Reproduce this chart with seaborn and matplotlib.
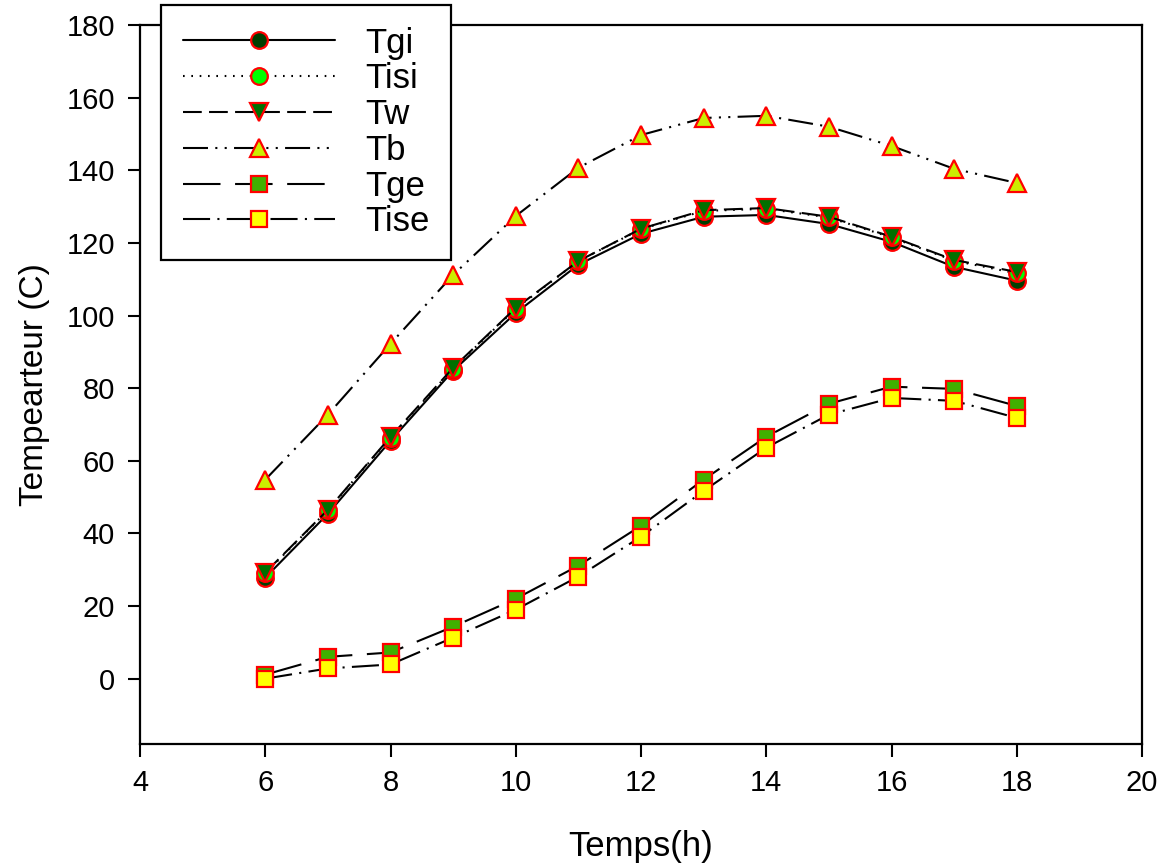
import pandas as pd
import numpy as np
import matplotlib
matplotlib.use('Agg')
import matplotlib.pyplot as plt
import seaborn as sns

# data
hours = [6, 7, 8, 9, 10, 11, 12, 13, 14, 15, 16, 17, 18]
tgi = [27.8, 45.4, 65.5, 84.8, 100.7, 114.0, 122.5, 127.2, 127.7, 125.2, 120.3, 113.4, 109.6]
tisi = [29.0, 46.4, 66.4, 85.4, 101.9, 115.0, 123.8, 128.8, 129.4, 127.0, 121.5, 115.1, 111.6]
tw = [29.2, 46.5, 66.6, 85.6, 102.1, 115.0, 123.9, 129.0, 129.6, 127.2, 121.7, 115.3, 112.0]
tb = [54.8, 72.7, 92.2, 111.2, 127.4, 140.7, 149.7, 154.4, 155.0, 152.0, 146.7, 140.4, 136.5]
tge = [1.1, 6.0, 7.2, 14.3, 22.0, 31.1, 42.1, 54.8, 66.6, 75.7, 80.4, 79.8, 75.1]
tise = [0.0, 2.8, 3.9, 11.3, 19.0, 28.1, 39.1, 51.7, 63.6, 72.7, 77.3, 76.5, 71.8]

names = ['Tgi', 'Tisi', 'Tw', 'Tb', 'Tge', 'Tise']
series = [tgi, tisi, tw, tb, tge, tise]

df = pd.DataFrame({'Temps': hours * len(names),
                   'T': np.concatenate(series),
                   'serie': np.repeat(names, len(hours))})

# look of each curve (SigmaPlot style)
styles = {
    'Tgi':  dict(ls='-',                          marker='o', fc='#003f00'),
    'Tisi': dict(ls=(0, (0.8, 3.2)),              marker='o', fc='#00ff00'),
    'Tw':   dict(ls=(0, (9, 3.5)),                marker='v', fc='#007000'),
    'Tb':   dict(ls=(0, (12, 3.5, 1, 3.5, 1, 3.5)), marker='^', fc='#ccee00'),
    'Tge':  dict(ls=(0, (18, 7)),                 marker='s', fc='#40b000'),
    'Tise': dict(ls=(0, (13, 3.5, 1, 3.5)),       marker='s', fc='#ffff00'),
}
msize = {'o': 12, 'v': 13.5, '^': 13.5, 's': 12}

sns.set_style('ticks')
plt.rcParams['font.family'] = ['Liberation Sans', 'DejaVu Sans']
plt.rcParams['text.color'] = 'black'
plt.rcParams['axes.labelcolor'] = 'black'
plt.rcParams['xtick.color'] = 'black'
plt.rcParams['ytick.color'] = 'black'

fig = plt.figure(figsize=(11.64, 8.66), dpi=100)
ax = fig.add_axes([0.1203, 0.1409, 0.8608, 0.8302])

for n in names:
    st = styles[n]
    sns.lineplot(data=df[df['serie'] == n], x='Temps', y='T', ax=ax, label=n,
                 color='black', linewidth=1.5, linestyle=st['ls'],
                 marker=st['marker'], markersize=msize[st['marker']],
                 markerfacecolor=st['fc'], markeredgecolor='red',
                 markeredgewidth=1.6)

ax.set_xlim(4, 20)
ax.set_ylim(-18, 180)
ax.set_xticks(range(4, 21, 2))
ax.set_yticks(range(0, 181, 20))
ax.tick_params(direction='out', length=9, width=1.5, labelsize=21, pad=9,
               top=False, right=False, colors='black')
for s in ax.spines.values():
    s.set_linewidth(1.6)
    s.set_color('black')

ax.set_xlabel('Temps(h)', fontsize=25, labelpad=24)
ax.set_ylabel('Tempearteur (C)', fontsize=24, labelpad=12)

leg = ax.legend(loc='upper left', bbox_to_anchor=(0.1383, 0.9942),
                bbox_transform=fig.transFigure, borderaxespad=0,
                fontsize=25, handlelength=4.4, handletextpad=0.85,
                labelspacing=0.08, borderpad=0.62, fancybox=False,
                framealpha=1, edgecolor='black')
leg.get_frame().set_linewidth(1.6)
leg.set_zorder(10)

fig.savefig('out.png', dpi=100)
